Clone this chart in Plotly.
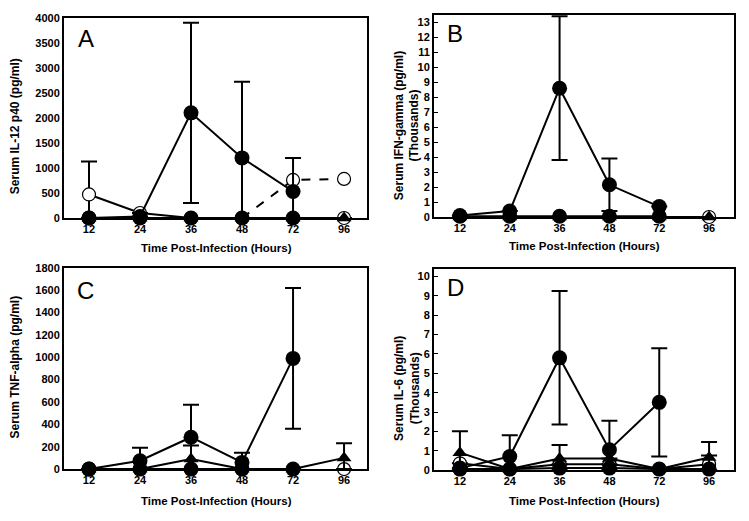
import plotly.graph_objects as go

HOURS = ["12", "24", "36", "48", "72", "96"]
XPOS = [0, 1, 2, 3, 4, 5]

# Panel A: Serum IL-12 p40 (pg/ml)
A_main = [0, 30, 2100, 1200, 530, None]
A_main_err = [0, 0, 1800, 1520, 670, 0]
A_open = [470, 100, 0, None, None, 0]
A_open_err = [660, 0, 0, 0, 0, 0]
A_open_late = [None, None, None, 0, 760, 780]
A_zero = [0, 0, 0, 0, 0, None]
A_tri = [0, 0, 0, 0, 0, 0]

# Panel B: Serum IFN-gamma (thousands pg/ml)
B_main = [0.1, 0.4, 8.6, 2.15, 0.7, None]
B_main_err = [0, 0, 4.8, 1.75, 0, 0]
B_zero = [0.05, 0.05, 0.05, 0.05, 0.05, None]
B_tri = [0, 0, 0, 0, 0, 0]
B_open = [None, None, None, None, None, 0]

# Panel C: Serum TNF-alpha (pg/ml)
C_main = [0, 75, 285, 60, 990, None]
C_main_err = [0, 115, 290, 85, 630, 0]
C_tri = [0, 0, 90, 0, 0, 100]
C_tri_err = [0, 0, 120, 0, 0, 130]
C_zero = [0, 0, 0, 0, 0, None]
C_open = [None, None, None, None, None, 0]

# Panel D: Serum IL-6 (thousands pg/ml)
D_main = [0.1, 0.7, 5.8, 1.05, 3.5, None]
D_main_err = [0, 1.1, 3.45, 1.5, 2.8, 0]
D_tri = [0.9, 0.05, 0.6, 0.6, 0.05, 0.65]
D_tri_err = [1.1, 0, 0.7, 0, 0, 0.8]
D_open = [0.35, 0.05, 0.3, 0.3, 0.05, 0.3]
D_open_err = [0, 0, 0, 0, 0, 0.45]
D_zero = [0.05, 0.05, 0.1, 0.1, 0.05, 0.05]

W, H = 749, 521
FONT = "Liberation Sans, Arial, sans-serif"


def px_x(v):
    return v / W


def px_y(v):
    return 1 - v / H


fig = go.Figure()


def err(vals, e):
    if e is None:
        return None
    up = [ei if v is not None else 0 for v, ei in zip(vals, e)]
    dn = [min(ei, v) if v is not None else 0 for v, ei in zip(vals, e)]
    return dict(type="data", symmetric=False, array=up, arrayminus=dn,
                color="black", thickness=2, width=8)


def add(vals, ax, kind, e=None, dash="solid"):
    if kind == "filled":
        marker = dict(symbol="circle", size=15, color="black",
                      line=dict(color="black", width=0))
    elif kind == "open":
        marker = dict(symbol="circle", size=13, color="white",
                      line=dict(color="black", width=1.2))
    else:
        marker = dict(symbol="triangle-up", size=13, color="black",
                      line=dict(color="black", width=0))
    fig.add_trace(go.Scatter(
        x=XPOS, y=vals, mode="lines+markers", xaxis="x" + ax, yaxis="y" + ax,
        line=dict(color="black", width=2, dash=dash), marker=marker,
        error_y=err(vals, e), showlegend=False, cliponaxis=False,
        connectgaps=False, hoverinfo="skip"))


# A
add(A_open, "", "open", A_open_err)
add(A_open_late, "", "open", None, dash="dash")
add(A_zero, "", "filled")
add(A_tri, "", "tri")
add(A_main, "", "filled", A_main_err)
# B
add(B_open, "2", "open")
add(B_zero, "2", "filled")
add(B_tri, "2", "tri")
add(B_main, "2", "filled", B_main_err)
# C
add(C_open, "3", "open")
add(C_zero, "3", "filled")
add(C_tri, "3", "tri", C_tri_err)
add(C_main, "3", "filled", C_main_err)
# D
add(D_open, "4", "open", D_open_err)
add(D_zero, "4", "filled")
add(D_tri, "4", "tri", D_tri_err)
add(D_main, "4", "filled", D_main_err)

tickfont = dict(family=FONT, size=11, color="black", weight="bold")

def xax(domain, rng, anchor):
    return dict(domain=domain, range=rng, anchor=anchor, tickmode="array",
                tickvals=XPOS, ticktext=HOURS, showline=True, mirror=True,
                linecolor="black", linewidth=2, showgrid=False,
                zeroline=False, ticks="", tickfont=tickfont, fixedrange=True)


def yax(domain, rng, dtick, anchor, ticks=""):
    return dict(domain=domain, range=rng, anchor=anchor, dtick=dtick,
                tick0=0, showline=True, mirror=True, linecolor="black",
                linewidth=2, showgrid=False, zeroline=False, ticks=ticks,
                ticklen=4, tickcolor="black", tickwidth=1,
                tickfont=tickfont, fixedrange=True)


xA = [px_x(64), px_x(367)]
xB = [px_x(434), px_x(734)]
yA = [px_y(217), px_y(12)]
yB = [px_y(216), px_y(9)]
yC = [px_y(474), px_y(268)]
yD = [px_y(475), px_y(269)]

fig.update_layout(
    width=W, height=H, margin=dict(l=0, r=0, t=0, b=0),
    plot_bgcolor="white", paper_bgcolor="white", hovermode=False,
    xaxis=xax(xA, [-0.49, 5.45], "y"),
    yaxis=yax(yA, [0, 4000], 500, "x"),
    xaxis2=xax(xB, [-0.52, 5.5], "y2"),
    yaxis2=yax(yB, [0, 13.5], 1, "x2", ticks="inside"),
    xaxis3=xax(xA, [-0.49, 5.45], "y3"),
    yaxis3=yax(yC, [0, 1800], 200, "x3"),
    xaxis4=xax(xB, [-0.52, 5.5], "y4"),
    yaxis4=yax(yD, [0, 10.4], 1, "x4", ticks="inside"),
)

titlefont = dict(family=FONT, size=12, color="black", weight="bold")
xtitlefont = dict(family=FONT, size=11.5, color="black", weight="bold")
letterfont = dict(family=FONT, size=24, color="black")

annots = [
    # panel letters
    dict(text="A", x=px_x(76), y=px_y(33), font=letterfont, xanchor="left"),
    dict(text="B", x=px_x(445), y=px_y(28), font=letterfont, xanchor="left"),
    dict(text="C", x=px_x(75), y=px_y(291), font=letterfont, xanchor="left"),
    dict(text="D", x=px_x(445), y=px_y(288), font=letterfont, xanchor="left"),
    # y titles
    dict(text="Serum IL-12 p40 (pg/ml)", x=px_x(15), y=px_y(123),
         textangle=-90, font=titlefont),
    dict(text="Serum IFN-gamma (pg/ml)<br>(Thousands)", x=px_x(407),
         y=px_y(123), textangle=-90, font=titlefont),
    dict(text="Serum TNF-alpha (pg/ml)", x=px_x(15), y=px_y(370),
         textangle=-90, font=titlefont),
    dict(text="Serum IL-6 (pg/ml)<br>(Thousands)", x=px_x(407),
         y=px_y(392), textangle=-90, font=titlefont),
    # x titles
    dict(text="Time Post-Infection (Hours)", x=px_x(217), y=px_y(248),
         font=xtitlefont),
    dict(text="Time Post-Infection (Hours)", x=px_x(584), y=px_y(246),
         font=xtitlefont),
    dict(text="Time Post-Infection (Hours)", x=px_x(217), y=px_y(507),
         font=xtitlefont),
    dict(text="Time Post-Infection (Hours)", x=px_x(584), y=px_y(507),
         font=xtitlefont),
]
for a in annots:
    a.setdefault("xanchor", "center")
    a.update(xref="paper", yref="paper", showarrow=False, yanchor="middle")
    fig.add_annotation(**a)

fig.write_html("out.html", config={"displayModeBar": False},
               post_script="document.body.style.margin='0';"
                           "document.body.style.overflow='hidden';")
